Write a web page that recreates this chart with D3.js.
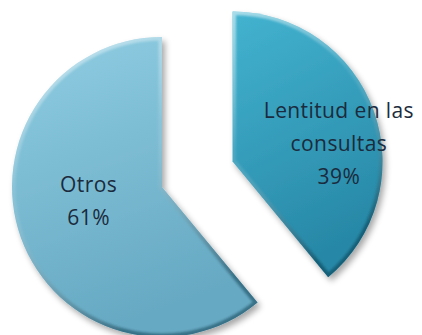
<!DOCTYPE html>
<html>
<head>
<meta charset="utf-8">
<script src="https://cdn.jsdelivr.net/npm/d3@7"></script>
<style>
  body { margin: 0; background: #fff; }
  svg { display: block; }
  .lbl { font-family: "Open Sans", Lato, sans-serif; font-size: 21px; letter-spacing: 0.4px; fill: #1b2b3d; }
</style>
</head>
<body>
<div id="chart"></div>
<script>
"use strict"

const WIDTH = 422;
const HEIGHT = 335;
const RADIUS = 150;
const CX = 162;
const CY = 187;
const EXPLODE = 75;
const LINE_H = 33;

// data
const categories = ["Lentitud en las consultas", "Otros"];
const values = [39, 61];
const labelLines = [["Lentitud en las", "consultas", "39%"], ["Otros", "61%"]];
const exploded = [true, false];

const colorTop = ["#43b3d0", "#8fcde2"];
const colorBottom = ["#2788a6", "#66a9c2"];
const labelRadius = [113, 78];

var svg = d3.select('#chart')
  .append('svg')
  .attr('width', WIDTH)
  .attr('height', HEIGHT);

var defs = svg.append('defs');

values.forEach(function(v, i) {
  var g = defs.append('linearGradient')
    .attr('id', 'fill' + i)
    .attr('x1', 0).attr('y1', 0).attr('x2', 0.3).attr('y2', 1);
  g.append('stop').attr('offset', '0%').attr('stop-color', colorTop[i]);
  g.append('stop').attr('offset', '100%').attr('stop-color', colorBottom[i]);
});

var bevel = defs.append('linearGradient')
  .attr('id', 'bevel')
  .attr('x1', 0).attr('y1', 0).attr('x2', 0.4).attr('y2', 1);
bevel.append('stop').attr('offset', '0%').attr('stop-color', '#ffffff').attr('stop-opacity', 0.55);
bevel.append('stop').attr('offset', '45%').attr('stop-color', '#ffffff').attr('stop-opacity', 0.1);
bevel.append('stop').attr('offset', '100%').attr('stop-color', '#0a2f40').attr('stop-opacity', 0.45);

var shadow = defs.append('filter')
  .attr('id', 'shadow')
  .attr('x', '-20%').attr('y', '-20%').attr('width', '140%').attr('height', '140%');
shadow.append('feGaussianBlur').attr('in', 'SourceAlpha').attr('stdDeviation', 3).attr('result', 'b');
shadow.append('feOffset').attr('in', 'b').attr('dx', 3).attr('dy', 4).attr('result', 'o');
shadow.append('feComponentTransfer').attr('in', 'o').attr('result', 's')
  .append('feFuncA').attr('type', 'linear').attr('slope', 0.35);
var merge = shadow.append('feMerge');
merge.append('feMergeNode').attr('in', 's');
merge.append('feMergeNode').attr('in', 'SourceGraphic');

var soft = defs.append('filter').attr('id', 'soft');
soft.append('feGaussianBlur').attr('stdDeviation', 1.2);

var pie = d3.pie()
  .value(function(d) { return d; })
  .sort(null);

var arc = d3.arc()
  .innerRadius(0)
  .outerRadius(RADIUS);

var arcs = pie(values);

var slices = svg.selectAll('.slice')
  .data(arcs)
  .enter()
    .append('g')
    .attr('class', 'slice')
    .attr('transform', function(d, i) {
      var mid = (d.startAngle + d.endAngle) / 2;
      var off = exploded[i] ? EXPLODE : 0;
      return 'translate(' + (CX + Math.sin(mid) * off) + ',' + (CY - Math.cos(mid) * off) + ')';
    });

slices.append('clipPath')
  .attr('id', function(d, i) { return 'clip' + i; })
  .append('path')
  .attr('d', arc);

slices.append('path')
  .attr('d', arc)
  .attr('fill', function(d, i) { return 'url(#fill' + i + ')'; })
  .attr('filter', 'url(#shadow)');

slices.append('path')
  .attr('d', arc)
  .attr('fill', 'none')
  .attr('stroke', 'url(#bevel)')
  .attr('stroke-width', 7)
  .attr('stroke-linejoin', 'round')
  .attr('clip-path', function(d, i) { return 'url(#clip' + i + ')'; })
  .attr('filter', 'url(#soft)');

slices.each(function(d, i) {
  var mid = (d.startAngle + d.endAngle) / 2;
  var r = labelRadius[i];
  var lx = Math.sin(mid) * r;
  var ly = -Math.cos(mid) * r;
  var lines = labelLines[i];
  var t = d3.select(this).append('text')
    .attr('class', 'lbl')
    .attr('text-anchor', 'middle');
  var top = (i === 0 ? 20 : -12) - (lines.length - 1) * LINE_H / 2;
  lines.forEach(function(s, k) {
    t.append('tspan')
      .attr('x', lx)
      .attr('y', ly + top + k * LINE_H)
      .attr('dy', '0.35em')
      .text(s);
  });
});
</script>
</body>
</html>
